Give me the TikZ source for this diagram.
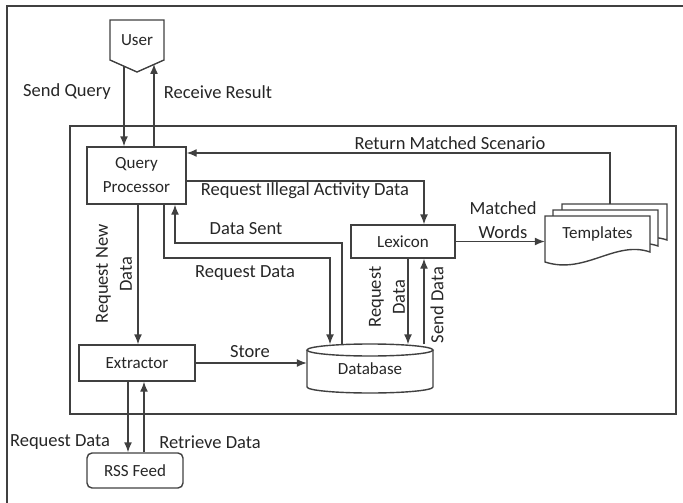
\documentclass[tikz,border=0pt]{standalone}
\usepackage{fontspec}
\setmainfont{Carlito}
\usetikzlibrary{positioning}
\usetikzlibrary{arrows.meta}

\begin{document}
\begin{tikzpicture}[x=1pt,y=-1pt,
  every node/.style={font=\fontsize{18.5}{24}\selectfont, text=black!85},
  line/.style={draw=black!75, line width=1.4pt},
  box/.style={line, inner sep=0pt, font=\fontsize{17}{22}\selectfont},
  arr/.style={line, -{Latex[length=10pt,width=8pt]}}]
\useasboundingbox (0,0) rectangle (683,503);
\draw[line] (683,6) -- (7,6) -- (7,503);
\draw[line] (70,126) rectangle (676,414);

% blocks
\draw[line] (110,20) -- (164,20) -- (164,60) -- (137,72) -- (110,60) -- cycle;
\node[font=\fontsize{17}{22}\selectfont] (user) at (137,40) {User};
\node[box, minimum width=99, minimum height=57, align=center] (qp) at (136.5,175.5) {Query\\[2pt]Processor};
\node[box, minimum width=104, minimum height=33] (lex) at (403,241.5) {Lexicon};
\node[box, minimum width=116, minimum height=36] (ext) at (137,363) {Extractor};
\node[box, rounded corners=5, minimum width=96, minimum height=35] (rss) at (135,470.5) {RSS Feed};

% database
\draw[line] (370,350) ellipse [x radius=63, y radius=6];
\draw[line] (307,350) -- (307,387) arc[start angle=180, end angle=0, x radius=63, y radius=6] -- (433,350);
\node[minimum width=126, minimum height=49, font=\fontsize{17}{22}\selectfont] (db) at (370,369) {Database};

% templates
\foreach \s/\t in {17/-12, 8/-6, 0/0}
  \draw[line, fill=white, shift={(\s,\t)}] (545,216) -- (650,216) -- (650,252)
    .. controls (615,240) and (585,275) .. (545,262) -- cycle;
\node[minimum width=105, minimum height=36, font=\fontsize{17}{22}\selectfont] (tpl) at (597.5,234) {Templates};

% turning points
\coordinate (uL) at (124,66);
\coordinate (uR) at (154,64);
\coordinate (tTop) at (610,204);
\coordinate (rms) at (610,153);
\coordinate (ria) at (424,181);
\coordinate (ds) at (342,243);
\coordinate (dsx) at (175,243);
\coordinate (rq1) at (164,258);
\coordinate (rq2) at (330,258);
\coordinate (lq) at (408,300);
\coordinate (ls) at (424,300);
\coordinate (xa) at (128,420);
\coordinate (xb) at (144,420);

% connectors
\draw[arr] (uL) -- (uL |- qp.north);
\draw[arr] (uR |- qp.north) -- (uR);
\draw[arr] (tTop) -- (rms) -- (rms -| qp.east);
\draw[arr] (ria -| qp.east) -- (ria) -- (ria |- lex.north);
\draw[arr] (ds |- db.north) -- (ds) -- (dsx) -- (dsx |- qp.south);
\draw[arr] (rq1 |- qp.south) -- (rq1) -- (rq2) -- (rq2 |- db.north);
\draw[arr] (qp.south -| 138,0) -- (ext.north -| 138,0);
\draw[arr] (ext.east) -- (ext.east -| db.west);
\draw[arr] (lq |- lex.south) -- (lq |- db.north);
\draw[arr] (ls |- db.north) -- (ls |- lex.south);
\draw[arr] (lex.east) -- (lex.east -| tpl.west);
\draw[arr] (xa |- ext.south) -- (xa |- rss.north);
\draw[arr] (xb |- rss.north) -- (xb |- ext.south);

% labels
\node (lSend) at (67,92) {Send Query};
\node (lRecv) at (218,92) {Receive Result};
\node (lRet) at (450,143) {Return Matched Scenario};
\node (lIll) at (305,191) {Request Illegal Activity Data};
\node (lSent) at (246,229) {Data Sent};
\node (lReq) at (245,273) {Request Data};
\node[rotate=90, align=center] (lNew) at (114,274) {Request New\\Data};
\node (lStore) at (250,352) {Store};
\node[rotate=90, align=center] (lLexReq) at (387,297) {Request\\Data};
\node[rotate=90] (lLexSend) at (437,305) {Send Data};
\node[align=center] (lMatch) at (503,220) {Matched\\Words};
\node (lRssReq) at (60,442) {Request Data};
\node (lRssRet) at (210,442) {Retrieve Data};
\end{tikzpicture}
\end{document}
